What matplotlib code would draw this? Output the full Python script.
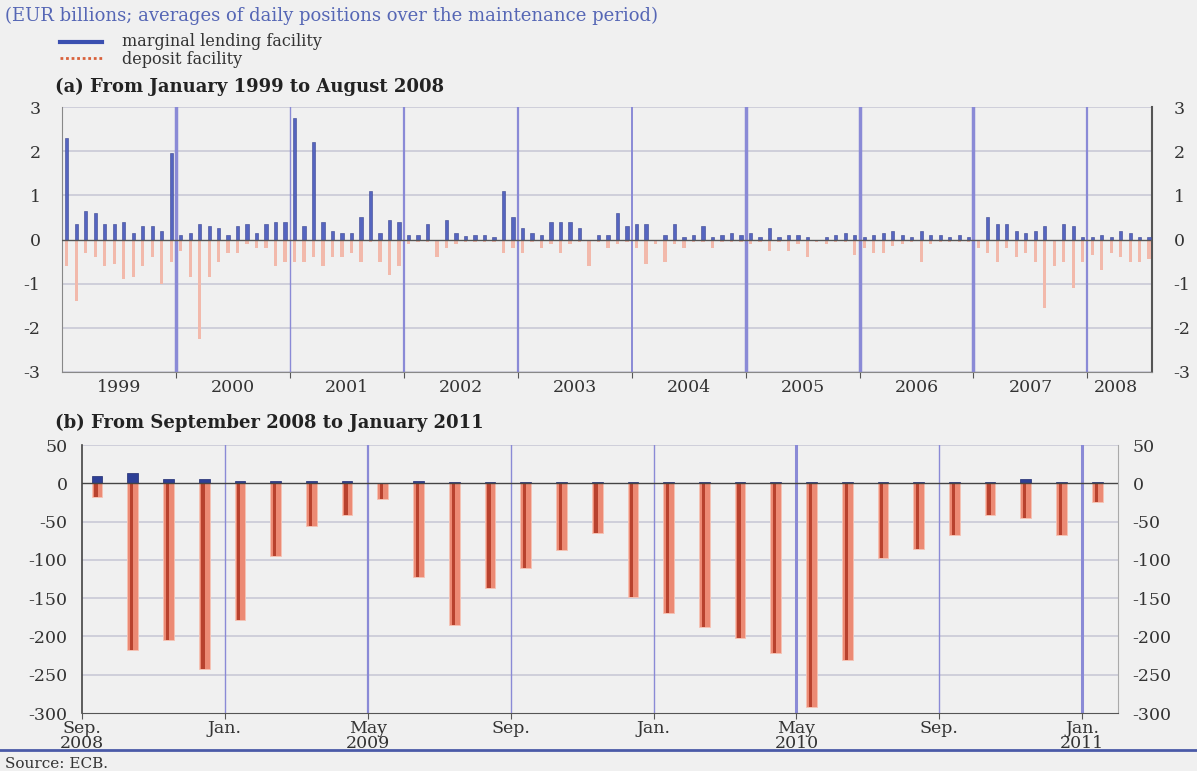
import matplotlib
matplotlib.use("Agg")
import matplotlib.pyplot as plt
import numpy as np
from matplotlib.lines import Line2D

plt.rcParams['font.family'] = ['DejaVu Serif', 'Liberation Serif']
plt.rcParams['axes.unicode_minus'] = False

# ---------------- data: panel (a), monthly maintenance periods, Jan 1999 - mid 2008
ml_a = [
    2.3, 0.35, 0.65, 0.6, 0.35, 0.35, 0.4, 0.15, 0.3, 0.3, 0.2, 1.95,      # 1999
    0.1, 0.15, 0.35, 0.3, 0.25, 0.1, 0.3, 0.35, 0.15, 0.35, 0.4, 0.4,      # 2000
    2.75, 0.3, 2.2, 0.4, 0.2, 0.15, 0.15, 0.5, 1.1, 0.15, 0.45, 0.4,       # 2001
    0.1, 0.1, 0.35, 0.0, 0.45, 0.15, 0.08, 0.1, 0.1, 0.05, 1.1, 0.5,       # 2002
    0.25, 0.15, 0.1, 0.4, 0.4, 0.4, 0.25, 0.0, 0.1, 0.1, 0.6, 0.3,         # 2003
    0.35, 0.35, 0.0, 0.1, 0.35, 0.05, 0.1, 0.3, 0.05, 0.1, 0.15, 0.1,      # 2004
    0.15, 0.05, 0.25, 0.05, 0.1, 0.1, 0.05, 0.0, 0.05, 0.1, 0.15, 0.1,     # 2005
    0.05, 0.1, 0.15, 0.2, 0.1, 0.05, 0.2, 0.1, 0.1, 0.05, 0.1, 0.05,       # 2006
    0.0, 0.5, 0.35, 0.35, 0.2, 0.15, 0.2, 0.3, 0.0, 0.35, 0.3, 0.05,       # 2007
    0.05, 0.1, 0.05, 0.2, 0.15, 0.05, 0.05,                                # 2008
]
dep_a = [
    -0.6, -1.4, -0.3, -0.4, -0.6, -0.55, -0.9, -0.85, -0.6, -0.4, -1.0, -0.5,
    -0.25, -0.85, -2.25, -0.85, -0.5, -0.3, -0.3, -0.1, -0.2, -0.2, -0.6, -0.5,
    -0.5, -0.5, -0.4, -0.6, -0.4, -0.4, -0.3, -0.5, -0.05, -0.5, -0.8, -0.6,
    -0.1, -0.05, -0.05, -0.4, -0.2, -0.1, -0.05, -0.05, -0.05, -0.05, -0.3, -0.2,
    -0.3, -0.05, -0.2, -0.1, -0.3, -0.1, -0.05, -0.6, -0.05, -0.2, -0.1, -0.05,
    -0.2, -0.55, -0.1, -0.5, -0.1, -0.2, -0.05, -0.05, -0.2, -0.05, -0.05, -0.05,
    -0.1, -0.05, -0.25, -0.05, -0.25, -0.1, -0.4, -0.05, -0.1, -0.05, -0.05, -0.35,
    -0.2, -0.3, -0.3, -0.15, -0.1, -0.05, -0.5, -0.1, -0.05, -0.05, -0.05, -0.05,
    -0.2, -0.3, -0.5, -0.2, -0.4, -0.3, -0.5, -1.55, -0.6, -0.5, -1.1, -0.5,
    -0.35, -0.7, -0.3, -0.4, -0.5, -0.5, -0.45,
]
years_a = ['1999', '2000', '2001', '2002', '2003', '2004', '2005', '2006', '2007', '2008']

# ---------------- data: panel (b), Sep 2008 - Jan 2011
ml_b = [10, 14, 5, 5, 3, 3, 3, 3, 1, 3, 2, 2, 2, 2, 2, 2, 2, 2, 2, 2, 2, 2, 2, 2, 2, 2, 5, 2, 2]
dep_b = [-18, -218, -205, -242, -178, -95, -56, -42, -21, -122, -185, -137, -110, -87,
         -65, -149, -170, -188, -202, -221, -292, -231, -98, -86, -68, -41, -45, -68, -24]
labels_b = ['Sep.\n2008', 'Jan.', 'May\n2009', 'Sep.', 'Jan.', 'May\n2010', 'Sep.', 'Jan.\n2011']

BG = '#f0f0f0'
GRIDC = '#c9c9d6'
VLINE = '#8a8ad6'
TXT = '#333333'
FS = 12.5

fig = plt.figure(figsize=(11.97, 7.71), dpi=100, facecolor=BG)

# header texts
fig.text(5/1197, 1-16/771, '(EUR billions; averages of daily positions over the maintenance period)',
         color='#5566b5', fontsize=13, va='center', ha='left')
fig.add_artist(Line2D([60/1197, 102/1197], [1-42/771]*2, color='#3a4fb0', lw=3))
fig.add_artist(Line2D([60/1197, 102/1197], [1-58/771]*2, color='#d9603a', lw=2, ls=(0, (1, 1))))
fig.text(122/1197, 1-42/771, 'marginal lending facility', color=TXT, fontsize=11.5, va='center')
fig.text(122/1197, 1-59/771, 'deposit facility', color=TXT, fontsize=11.5, va='center')
fig.text(55/1197, 1-87/771, '(a) From January 1999 to August 2008', color='#222222',
         fontsize=13, fontweight='bold', va='center')
fig.text(55/1197, 1-423/771, '(b) From September 2008 to January 2011', color='#222222',
         fontsize=13, fontweight='bold', va='center')

# ---------------- panel (a)
axa = fig.add_axes([62/1197, 1-372/771, (1152-62)/1197, (372-107)/771], facecolor=BG)
xa = np.arange(len(ml_a)) + 0.5
axa.bar(xa, dep_a, width=0.35, color='#f2b9ab', edgecolor='none', zorder=3)
axa.bar(xa, ml_a, width=0.35, color='#5565c0', edgecolor='#3a4590', linewidth=0.4, zorder=3)
axa.set_xlim(0, 114.8)
axa.set_ylim(-3, 3)
axa.set_yticks(range(-3, 4))
for v in range(-3, 4):
    if v == 0:
        axa.axhline(0, color='#555555', lw=1, zorder=4)
    else:
        axa.axhline(v, color=GRIDC, lw=1.2, zorder=1)
vwid_a = [2.5, 1.0, 1.6, 1.6, 1.4, 2.5, 2.5, 2.5, 1.6]
for k, w in enumerate(vwid_a):
    axa.axvline(12*(k+1), color=VLINE, lw=w, zorder=2)
axa.set_xticks([12*k for k in range(1, 10)])
axa.set_xticklabels([])
axa.set_xticks([6 + 12*k for k in range(9)] + [111], minor=True)
axa.set_xticklabels(years_a, minor=True)
axa.tick_params(axis='x', which='minor', length=0, pad=5, labelsize=FS, labelcolor=TXT)
axa.tick_params(axis='x', which='major', length=4, direction='out', color='#555555')
axa.tick_params(axis='y', left=False, right=False, labelleft=True, labelright=True,
                labelsize=FS, labelcolor=TXT, pad=12)
axa.spines['top'].set_visible(False)
axa.spines['left'].set_color('#888888')
axa.spines['right'].set_color('#555555')
axa.spines['right'].set_linewidth(1.5)
axa.spines['bottom'].set_color('#888888')

# ---------------- panel (b)
axb = fig.add_axes([82/1197, 1-713/771, (1118-82)/1197, (713-445)/771], facecolor=BG)
xb = np.arange(len(dep_b)) + 0.42
axb.bar(xb, dep_b, width=0.30, color='#ec8a74', edgecolor='#f6c2b4', linewidth=0.6, zorder=3)
axb.bar(xb - 0.03, dep_b, width=0.09, color='#b8422e', edgecolor='none', zorder=3.5)
axb.bar(xb, ml_b, width=0.30, color='#2d3f96', edgecolor='#1e2a70', linewidth=0.5, zorder=3)
axb.set_xlim(0, 29)
axb.set_ylim(-300, 50)
axb.set_yticks(range(-300, 51, 50))
for v in range(-250, 51, 50):
    if v == 0:
        axb.axhline(0, color='#444444', lw=1, zorder=4)
    else:
        axb.axhline(v, color=GRIDC, lw=1.2, zorder=1)
vwid_b = [1.0, 1.6, 1.0, 1.0, 2.2, 1.0, 2.2]
for k, w in enumerate(vwid_b):
    axb.axvline(4*(k+1), color=VLINE, lw=w, zorder=2)
axb.set_xticks([4*k for k in range(8)])
axb.set_xticklabels(labels_b, linespacing=0.85)
axb.tick_params(axis='x', length=4, direction='out', color='#555555', pad=1,
                labelsize=FS, labelcolor=TXT)
axb.tick_params(axis='y', left=False, right=False, labelleft=True, labelright=True,
                labelsize=FS, labelcolor=TXT, pad=7)
axb.spines['top'].set_visible(False)
axb.spines['left'].set_color('#444444')
axb.spines['left'].set_linewidth(1.2)
axb.spines['right'].set_color('#aaaaaa')
axb.spines['bottom'].set_color('#555555')

# footer
fig.add_artist(Line2D([0, 1], [1-750/771]*2, color='#4a5aa8', lw=2))
fig.text(5/1197, 1-764/771, 'Source: ECB.', color=TXT, fontsize=11, va='center')

fig.savefig('out.png', dpi=100, facecolor=BG)
